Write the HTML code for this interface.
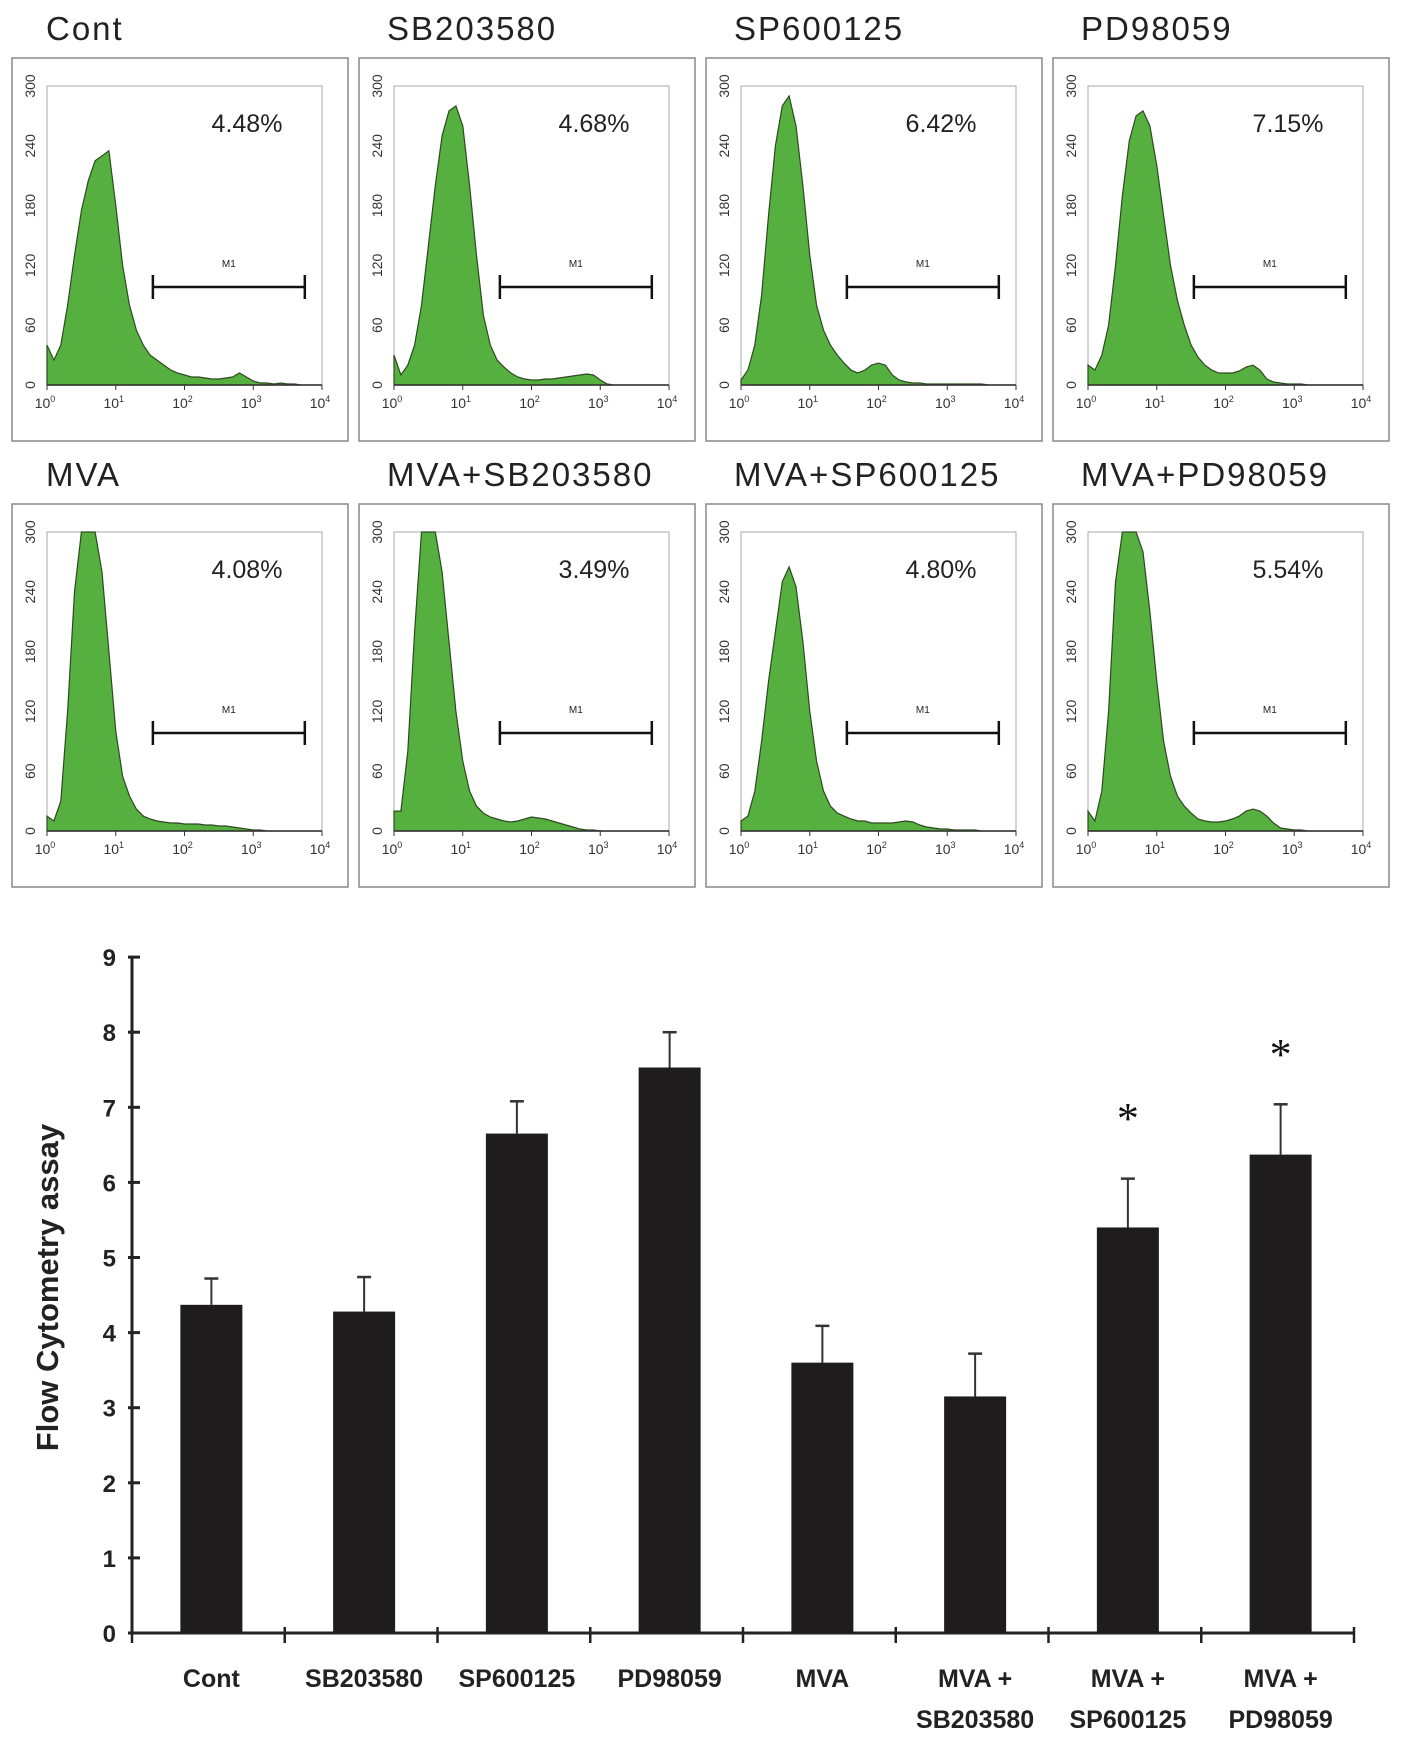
<!DOCTYPE html>
<html><head><meta charset="utf-8"><style>
body{margin:0;background:#fff;width:1417px;height:1762px;overflow:hidden;font-family:"Liberation Sans",sans-serif}
svg{display:block}
</style></head><body>
<svg id="fig" width="1417" height="1762" viewBox="0 0 1417 1762" xmlns="http://www.w3.org/2000/svg"></svg>
<script>
const panelTitles=["Cont","SB203580","SP600125","PD98059","MVA","MVA+SB203580","MVA+SP600125","MVA+PD98059"];
const panelPercents=["4.48%","4.68%","6.42%","7.15%","4.08%","3.49%","4.80%","5.54%"];
const histCounts=[
[40,25,40,80,130,175,205,225,230,235,180,120,80,55,40,30,25,20,15,12,10,8,8,7,6,6,7,8,12,8,4,2,2,1,2,1,1,0,0,0,0],
[30,10,20,40,80,140,200,250,275,280,260,200,130,70,40,25,18,12,8,6,5,5,6,6,7,8,9,10,11,10,5,1,0,0,0,0,0,0,0,0,0],
[5,15,40,90,170,240,280,290,260,200,130,80,55,40,30,22,15,12,15,20,22,20,10,5,3,2,2,1,1,1,1,1,1,1,1,1,0,0,0,0,0],
[20,15,30,60,120,190,245,270,275,260,220,170,120,85,60,40,28,20,15,12,12,12,14,18,20,15,6,3,2,1,1,1,0,0,0,0,0,0,0,0,0],
[15,10,30,120,240,300,300,300,260,180,100,55,35,22,15,12,10,9,8,8,7,7,7,6,6,5,5,4,3,2,1,1,0,0,0,0,0,0,0,0,0],
[20,20,80,200,300,300,300,260,190,120,70,40,25,18,14,12,10,9,10,12,14,13,12,10,8,6,4,2,1,1,0,0,0,0,0,0,0,0,0,0,0],
[10,15,40,90,150,200,250,265,245,190,120,70,40,25,18,15,12,10,10,8,8,8,8,9,10,9,6,4,3,2,2,1,1,1,1,0,0,0,0,0,0],
[20,10,40,120,250,300,300,300,280,220,150,90,55,35,25,18,12,10,9,9,10,12,15,20,22,20,15,8,3,2,1,1,0,0,0,0,0,0,0,0,0]];
const histYTicks=[0,60,120,180,240,300];
const histXTicks=[0,1,2,3,4];
const gateRange=[1.54,3.75];

const categories=[["Cont"],["SB203580"],["SP600125"],["PD98059"],["MVA"],["MVA +","SB203580"],["MVA +","SP600125"],["MVA +","PD98059"]];
const values=[4.37,4.28,6.65,7.53,3.6,3.15,5.4,6.37];
const errTops=[4.72,4.74,7.08,8.0,4.09,3.72,6.05,7.04];
const starLevels=[null,null,null,null,null,null,6.95,7.8];
const yTicks=[0,1,2,3,4,5,6,7,8,9];

const NS="http://www.w3.org/2000/svg";
const svg=document.getElementById('fig');
function mk(tag,attrs,parent,text){const e=document.createElementNS(NS,tag);for(const k in attrs)e.setAttribute(k,attrs[k]);if(text!==undefined)e.textContent=text;(parent||svg).appendChild(e);return e;}

const colX=[12,359,706,1053],rowY=[58,504],BW=336,BH=383;
const PL=35,PT=28,PW=275,PH=299;
for(let i=0;i<8;i++){
  const bx=colX[i%4],by=rowY[Math.floor(i/4)];
  const g=mk('g',{transform:`translate(${bx},${by})`});
  
  
  const t=mk('text',{x:i%4===0?34:28,y:-18,'font-size':33,'letter-spacing':2,fill:'#222'},g,panelTitles[i]);
  
  
  const box=mk('rect',{x:0,y:0,width:BW,height:BH,fill:'#fff',stroke:'#888','stroke-width':1.5},g);
  
  
  const xs=v=>PL+v/4*PW, ys=v=>PT+PH-Math.min(v,300)/300*PH;
  mk('rect',{x:PL,y:PT,width:PW,height:PH,fill:'none',stroke:'#aaa','stroke-width':1},g);
  const c=histCounts[i];
  let d=`M${xs(0)},${ys(0)}`;
  c.forEach((v,j)=>{d+=` L${xs(j*0.1).toFixed(1)},${ys(v).toFixed(1)}`;});
  d+=` L${xs(4)},${ys(0)} Z`;
  const p=mk('path',{d:d,fill:'#55b040',stroke:'#2d4a20','stroke-width':1.2},g);
  
  
  mk('line',{x1:PL,y1:PT+PH,x2:PL+PW,y2:PT+PH,stroke:'#333','stroke-width':1.5},g);
  histYTicks.forEach(v=>{
    const y=ys(v);
    const tl=mk('text',{transform:`translate(${PL-12},${y}) rotate(-90)`,'text-anchor':'middle','font-size':14,fill:'#333'},g,String(v));
    
    
  });
  histXTicks.forEach(v=>{
    const x=xs(v);
    mk('line',{x1:x,y1:PT+PH,x2:x,y2:PT+PH+5,stroke:'#333'},g);
    const tl=mk('text',{x:x-2,y:PT+PH+23,'text-anchor':'middle','font-size':14,fill:'#333'},g);
    
    
    tl.innerHTML=`10<tspan dy="-6" font-size="9">${v}</tspan>`;
  });
  const gx1=xs(gateRange[0]),gx2=xs(gateRange[1]),gy=PT+201;
  const gate=mk('g',{},g);
  
  
  mk('line',{x1:gx1,y1:gy,x2:gx2,y2:gy,stroke:'#111','stroke-width':2.5},gate);
  mk('line',{x1:gx1,y1:gy-12,x2:gx1,y2:gy+12,stroke:'#111','stroke-width':2.5},gate);
  mk('line',{x1:gx2,y1:gy-12,x2:gx2,y2:gy+12,stroke:'#111','stroke-width':2.5},gate);
  mk('text',{x:(gx1+gx2)/2,y:gy-20,'text-anchor':'middle','font-size':10,fill:'#222'},gate,'M1');
  const pc=mk('text',{x:PL+200,y:PT+46,'text-anchor':'middle','font-size':25,fill:'#222'},g,panelPercents[i]);
  
  
}

const X0=132,X1=1354,Y0=1633,UNIT=75.1;
const n=categories.length,band=(X1-X0)/n,BWID=62;
const ySc=v=>Y0-v*UNIT, xC=i=>X0+band*(i+0.5)+3;
const chart=mk('g',{});


const ya=mk('line',{x1:X0,y1:ySc(9),x2:X0,y2:Y0,stroke:'#222','stroke-width':3},chart);


const xa=mk('line',{x1:X0,y1:Y0,x2:X1,y2:Y0,stroke:'#222','stroke-width':3},chart);


yTicks.forEach(v=>{
  const y=ySc(v);
  mk('line',{x1:X0-4,y1:y,x2:X0+8,y2:y,stroke:'#222','stroke-width':3},chart);
  const t=mk('text',{x:X0-16,y:y+9,'text-anchor':'end','font-size':24,'font-weight':'bold',fill:'#222'},chart,String(v));
  
  
});
for(let i=0;i<=n;i++){const x=X0+band*i;mk('line',{x1:x,y1:Y0-6,x2:x,y2:Y0+10,stroke:'#222','stroke-width':2.5},chart);}
const yt=mk('text',{transform:`translate(58,${ySc(4.6)}) rotate(-90)`,'text-anchor':'middle','font-size':31,'font-weight':'bold',fill:'#222'},chart,'Flow Cytometry assay');


values.forEach((v,i)=>{
  const cx=xC(i);
  const eb=mk('g',{},chart);
  
  
  mk('line',{x1:cx,y1:ySc(errTops[i]),x2:cx,y2:ySc(v),stroke:'#333','stroke-width':2},eb);
  mk('line',{x1:cx-7,y1:ySc(errTops[i]),x2:cx+7,y2:ySc(errTops[i]),stroke:'#333','stroke-width':2.5},eb);
  const r=mk('rect',{x:cx-BWID/2,y:ySc(v),width:BWID,height:Y0-ySc(v),fill:'#1e1c1d'},chart);
  
  
  categories[i].forEach((ln,k)=>{
    const t=mk('text',{x:cx,y:Y0+54+k*41,'text-anchor':'middle','font-size':25,'font-weight':'bold',fill:'#222'},chart,ln);
    
    
  });
  if(starLevels[i]!==null){
    const s=mk('text',{x:cx,y:ySc(starLevels[i])+22,'text-anchor':'middle','font-size':44,fill:'#111','font-family':'Liberation Serif, serif'},chart,'*');
    
    
  }
});
</script>
</body></html>
